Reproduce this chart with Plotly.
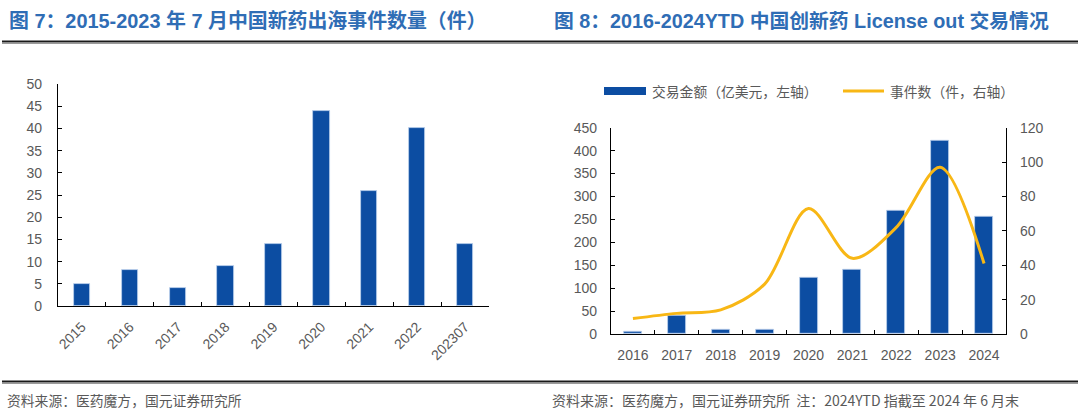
import plotly.graph_objects as go

# ---- data ----
left_categories = ["2015", "2016", "2017", "2018", "2019", "2020", "2021", "2022", "202307"]
left_events = [5, 8, 4, 9, 14, 44, 26, 40, 14]

right_categories = ["2016", "2017", "2018", "2019", "2020", "2021", "2022", "2023", "2024"]
deal_amount = [4, 40, 10, 10, 123, 140, 270, 422, 256]
deal_count = [9, 12, 14, 29, 73, 44, 62, 97, 41]

title_left = "图 7：2015-2023 年 7 月中国新药出海事件数量（件）"
title_right = "图 8：2016-2024YTD 中国创新药 License out 交易情况"
footer_left = "资料来源：医药魔方，国元证券研究所"
footer_right = "资料来源：医药魔方，国元证券研究所  注：2024YTD 指截至 2024 年 6 月末"
legend_bar = "交易金额（亿美元，左轴）"
legend_line = "事件数（件，右轴）"

BLUE = "#0C4DA2"
GOLD = "#F8B715"
GRAY = "#595959"
TITLE = "#2F6DB5"
FONT = "Liberation Sans, Arial, Noto Sans CJK SC, sans-serif"
CJK = "Noto Sans CJK SC, Liberation Sans, sans-serif"

W, H = 1080, 418
def px(x):
    return x / W
def py(y):
    return 1 - y / H

fig = go.Figure()

fig.add_trace(go.Bar(x=left_categories, y=left_events, xaxis="x", yaxis="y",
                     marker=dict(color=BLUE, line=dict(color="#bcd0ec", width=0.8)),
                     width=0.34, showlegend=False))

fig.add_trace(go.Bar(x=right_categories, y=deal_amount, xaxis="x2", yaxis="y2",
                     marker=dict(color=BLUE, line=dict(color="#bcd0ec", width=0.8)),
                     width=0.41, showlegend=False))

fig.add_trace(go.Scatter(x=right_categories, y=deal_count, xaxis="x2", yaxis="y3",
                         mode="lines", line=dict(color=GOLD, width=3, shape="spline", smoothing=0.9),
                         showlegend=False))

axis_common = dict(showline=True, linecolor="black", linewidth=1.3, ticks="inside",
                   tickcolor="black", ticklen=4, tickwidth=1.3, showgrid=False, zeroline=False,
                   automargin=False,
                   tickfont=dict(family=FONT, size=14, color=GRAY))

fig.update_layout(
    width=W, height=H, margin=dict(l=0, r=0, t=0, b=0),
    paper_bgcolor="white", plot_bgcolor="white",
    bargap=0,
    xaxis=dict(domain=[px(58), px(489)], anchor="y", type="category", tickson="boundaries",
               tickangle=-45, ticklabelstandoff=6, **axis_common),
    yaxis=dict(domain=[py(306), py(84)], anchor="x", range=[0, 50], dtick=5,
               ticklabelstandoff=12, **axis_common),
    xaxis2=dict(domain=[px(611), px(1006)], anchor="y2", type="category", tickson="boundaries",
                ticklabelstandoff=8, **axis_common),
    yaxis2=dict(domain=[py(334), py(127.7)], anchor="x2", range=[0, 450], dtick=50,
                ticklabelstandoff=10, **axis_common),
    yaxis3=dict(overlaying="y2", anchor="x2", side="right", range=[0, 120], dtick=20,
                ticklabelstandoff=10, **axis_common),
)

shapes = []
# separator lines
for yy in (42, 382):
    shapes.append(dict(type="line", xref="paper", yref="paper", x0=px(2), x1=px(1078),
                       y0=py(yy - 0.5), y1=py(yy - 0.5), line=dict(color="#1a1a1a", width=2)))
    shapes.append(dict(type="line", xref="paper", yref="paper", x0=px(2), x1=px(1078),
                       y0=py(yy + 1.5), y1=py(yy + 1.5), line=dict(color="#9a9a9a", width=1)))
# legend symbols
shapes.append(dict(type="rect", xref="paper", yref="paper", x0=px(604), x1=px(646),
                   y0=py(95), y1=py(87), fillcolor=BLUE, line=dict(width=0)))
shapes.append(dict(type="line", xref="paper", yref="paper", x0=px(843), x1=px(884),
                   y0=py(91), y1=py(91), line=dict(color=GOLD, width=3)))
fig.update_layout(shapes=shapes)

ann = []
ann.append(dict(text=title_left, x=px(7), y=py(21), xref="paper", yref="paper", xanchor="left",
                yanchor="middle", showarrow=False,
                font=dict(family=FONT, size=19.9, color=TITLE, weight="bold")))
ann.append(dict(text=title_right, x=px(552), y=py(21), xref="paper", yref="paper", xanchor="left",
                yanchor="middle", showarrow=False,
                font=dict(family=FONT, size=19.8, color=TITLE, weight="bold")))
ann.append(dict(text=footer_left, x=px(5), y=py(400), xref="paper", yref="paper", xanchor="left",
                yanchor="middle", showarrow=False, font=dict(family=CJK, size=13.8, color=GRAY)))
ann.append(dict(text=footer_right, x=px(550), y=py(400), xref="paper", yref="paper", xanchor="left",
                yanchor="middle", showarrow=False, font=dict(family=CJK, size=14, color=GRAY)))
ann.append(dict(text=legend_bar, x=px(650), y=py(91), xref="paper", yref="paper", xanchor="left",
                yanchor="middle", showarrow=False, font=dict(family=CJK, size=13.8, color=GRAY)))
ann.append(dict(text=legend_line, x=px(888), y=py(91), xref="paper", yref="paper", xanchor="left",
                yanchor="middle", showarrow=False, font=dict(family=CJK, size=13.8, color=GRAY)))
fig.update_layout(annotations=ann)

fig.write_html("out.html")
